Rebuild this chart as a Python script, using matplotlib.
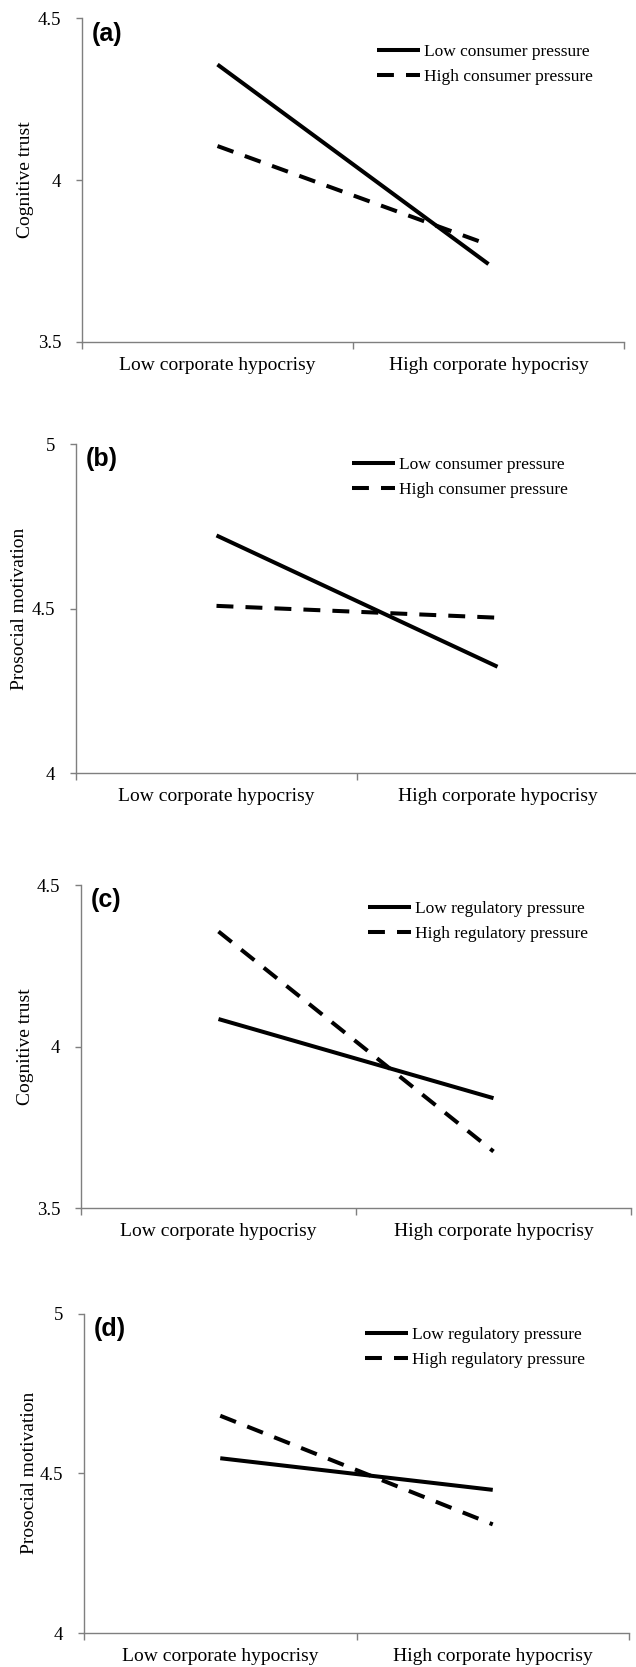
import matplotlib.pyplot as plt

categories = ["Low corporate hypocrisy", "High corporate hypocrisy"]

a_low = [4.357, 3.74]
a_high = [4.105, 3.80]
b_low = [4.722, 4.323]
b_high = [4.508, 4.472]
c_low = [4.085, 3.84]
c_high = [4.356, 3.675]
d_low = [4.547, 4.448]
d_high = [4.68, 4.34]

consumer_labels = ["Low consumer pressure", "High consumer pressure"]
regulatory_labels = ["Low regulatory pressure", "High regulatory pressure"]

W, H = 636, 1667
fig = plt.figure(figsize=(W / 100, H / 100), dpi=100)
plt.rcParams['font.family'] = ['Liberation Serif', 'DejaVu Serif']

# panel: (tag, low, high, labels, ylabel, yticks, axes px box, ylabel x center, legend px)
panels = [
    ("(a)", a_low, a_high, consumer_labels, "Cognitive trust",
     [3.5, 4, 4.5], (82, 624, 18.3, 341.7), 26, (377, 44)),
    ("(b)", b_low, b_high, consumer_labels, "Prosocial motivation",
     [4, 4.5, 5], (76, 638, 444, 773), 20, (352, 457)),
    ("(c)", c_low, c_high, regulatory_labels, "Cognitive trust",
     [3.5, 4, 4.5], (81, 631, 885, 1208), 26, (368, 901)),
    ("(d)", d_low, d_high, regulatory_labels, "Prosocial motivation",
     [4, 4.5, 5], (84, 629, 1313.5, 1633), 30, (365, 1327)),
]

axis_gray = "#7f7f7f"
x = [0, 1]

for tag, low, high, labels, ylabel, yticks, box, ylab_x, leg in panels:
    l, r, t, b = box
    ax = fig.add_axes([l / W, 1 - b / H, (r - l) / W, (b - t) / H])
    ax.plot(x, low, color="black", linewidth=2.9, solid_capstyle="butt", label=labels[0])
    ax.plot(x, high, color="black", linewidth=2.9, dashes=(4.2, 3.0),
            dash_capstyle="butt", label=labels[1])

    ax.set_xlim(-0.5, 1.5)
    ax.set_ylim(yticks[0], yticks[-1])
    ax.set_yticks(yticks)
    ax.set_yticklabels([f"{v:g}" for v in yticks])
    ax.set_xticks([-0.5, 0.5, 1.5])
    ax.set_xticklabels([])
    ax.set_xticks(x, minor=True)
    ax.set_xticklabels(categories, minor=True)

    for s in ["top", "right"]:
        ax.spines[s].set_visible(False)
    for s in ["left", "bottom"]:
        ax.spines[s].set_color(axis_gray)
        ax.spines[s].set_linewidth(1.0)
    ax.tick_params(axis="y", direction="out", length=4, width=1.0, color=axis_gray,
                   labelsize=13.5, pad=11)
    ax.tick_params(axis="x", which="major", direction="out", length=5, width=1.0,
                   color=axis_gray)
    ax.tick_params(axis="x", which="minor", length=0, labelsize=14, pad=11)

    ax.set_ylabel(ylabel, fontsize=14, va="center")
    ax.yaxis.set_label_coords((ylab_x - l) / (r - l), 0.5)

    ax.text(0.018, 0.99, tag, transform=ax.transAxes, ha="left", va="top",
            fontsize=18, fontweight="bold", family=["Liberation Sans", "DejaVu Sans"])

    ax.legend(loc="upper left", bbox_to_anchor=(leg[0] / W, 1 - leg[1] / H),
              bbox_transform=fig.transFigure, frameon=False, fontsize=12.5,
              handlelength=2.5, handletextpad=0.2, labelspacing=0.5,
              borderpad=0, borderaxespad=0)

fig.savefig("out.png", dpi=100)
